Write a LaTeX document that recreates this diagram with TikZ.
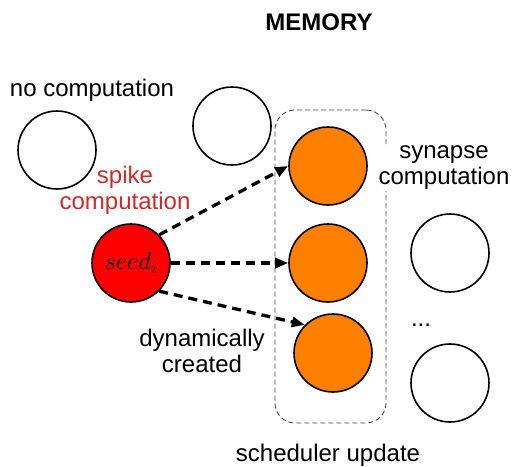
\documentclass[tikz,border=0pt]{standalone}
\usepackage{fontspec}
\setmainfont{Liberation Sans}
\usetikzlibrary{arrows.meta}
\definecolor{spikered}{RGB}{210,40,40}
\definecolor{cellorange}{RGB}{255,128,0}
\definecolor{boxgray}{RGB}{70,70,70}
\begin{document}
\begin{tikzpicture}[x=1pt,y=-1pt,
  neuron/.style={circle,draw=black,line width=1.6pt,minimum size=78pt,inner sep=0pt},
  lbl/.style={font=\fontsize{24}{26}\selectfont,align=center,inner sep=1pt},
  spikearrow/.style={line width=3.3pt,dash pattern=on 9pt off 6pt,-{Triangle[length=13pt,width=10pt]}}]
  \useasboundingbox (0,0) rectangle (513,466);

  % scheduler region
  \node[draw=boxgray,dash pattern=on 5pt off 3pt,line width=0.9pt,rounded corners=20pt,minimum width=111pt,minimum height=313pt,inner sep=0pt]
    (sched) at (330.5,266.5) {};

  % neurons
  \node[neuron] (idle1) at (57,150) {};
  \node[neuron] (idle2) at (232,126) {};
  \node[neuron,fill=red] (seed) at (131,263) {\fontsize{25}{28}\selectfont$seed_i$};
  \node[neuron,fill=cellorange] (o1) at (328,166) {};
  \node[neuron,fill=cellorange] (o2) at (328,263) {};
  \node[neuron,fill=cellorange] (o3) at (333,353) {};
  \node[neuron] (r1) at (450,253) {};
  \node[neuron] (r2) at (450,383) {};

  % labels
  \node[lbl,font=\fontsize{24}{26}\selectfont\bfseries] (mem) at (319,22) {MEMORY};
  \node[lbl] (nocomp) at (92,90) {no computation};
  \node[lbl,text=spikered] (spike) at (125,190) {spike\\computation};
  \node[lbl,fill=white] (synapse) at (444,168) {synapse\\computation};
  \node[lbl] (dyn) at (202,351) {dynamically\\created};
  \node[lbl] (dots) at (421,325) {...};
  \node[lbl] (upd) at (328,455) {scheduler update};

  % spike propagation
  \draw[spikearrow] (seed.north east) -- (o1.west);
  \draw[spikearrow] (seed.east) -- (o2.west);
  \draw[spikearrow] (seed.south east) -- (o3.north west);
\end{tikzpicture}
\end{document}
